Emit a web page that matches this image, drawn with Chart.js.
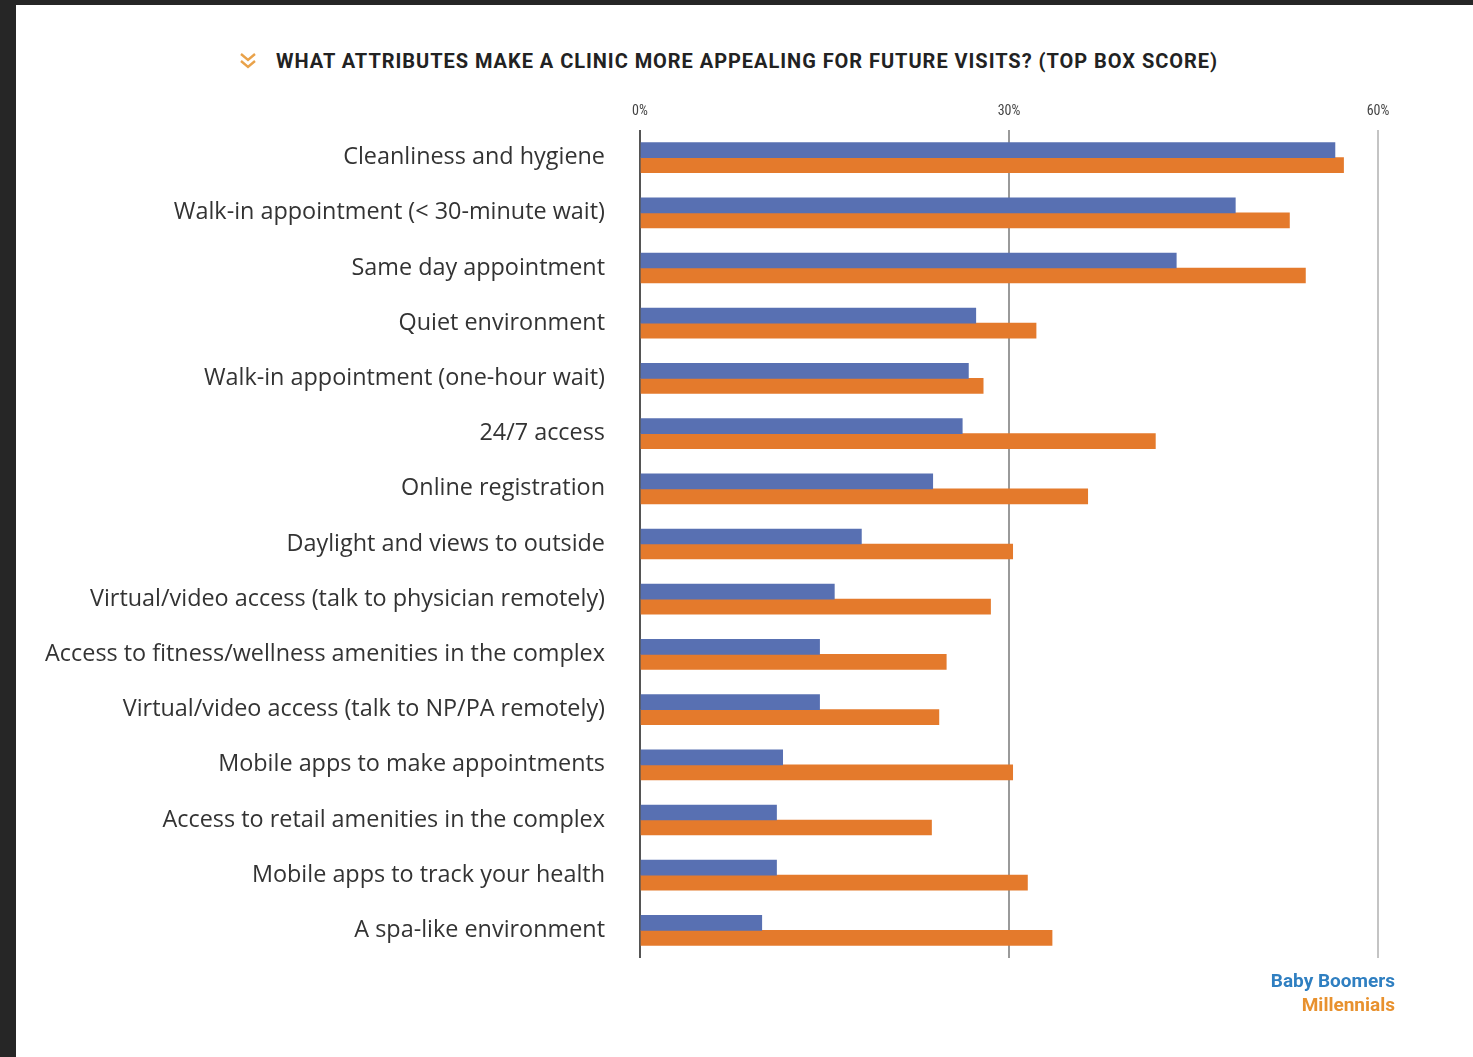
<!DOCTYPE html>
<html>
<head>
<meta charset="utf-8">
<script src="https://cdn.jsdelivr.net/npm/chart.js@4"></script>
<style>
  html, body { margin: 0; padding: 0; }
  body { width: 1473px; height: 1057px; background: #262626; position: relative; overflow: hidden; }
  #panel { position: absolute; left: 16px; top: 5px; width: 1457px; height: 1052px; background: #ffffff; }
  #title { position: absolute; left: 276px; top: 49px; font-family: Roboto, "Liberation Sans", sans-serif; font-weight: 700; font-size: 19px; letter-spacing: 0px; color: #222; white-space: nowrap; }
  #icon { position: absolute; left: 238px; top: 50px; }
  #chartwrap { position: absolute; left: 16px; top: 5px; width: 1457px; height: 1052px; }
  .leg { position: absolute; right: 78px; font-family: Roboto, "Liberation Sans", sans-serif; font-weight: 700; font-size: 19px; letter-spacing: 0px; white-space: nowrap; }
  #lb { top: 969px; color: #2f7fc1; }
  #lm { top: 993px; color: #e8912e; }
</style>
</head>
<body>
<div id="panel"></div>
<svg id="icon" width="20" height="24" viewBox="0 0 20 24">
  <polyline points="3,4 10,10 17,4" fill="none" stroke="#e9a24a" stroke-width="2.4"/>
  <polyline points="3,11 10,17 17,11" fill="none" stroke="#e9a24a" stroke-width="2.4"/>
</svg>
<div id="title">WHAT ATTRIBUTES MAKE A CLINIC MORE APPEALING FOR FUTURE VISITS? (TOP BOX SCORE)</div>
<div id="chartwrap"><canvas id="c" width="1457" height="1052"></canvas></div>
<div class="leg" id="lb">Baby Boomers</div>
<div class="leg" id="lm">Millennials</div>
<script>
const categories = [
  "Cleanliness and hygiene",
  "Walk-in appointment (< 30-minute wait)",
  "Same day appointment",
  "Quiet environment",
  "Walk-in appointment (one-hour wait)",
  "24/7 access",
  "Online registration",
  "Daylight and views to outside",
  "Virtual/video access (talk to physician remotely)",
  "Access to fitness/wellness amenities in the complex",
  "Virtual/video access (talk to NP/PA remotely)",
  "Mobile apps to make appointments",
  "Access to retail amenities in the complex",
  "Mobile apps to track your health",
  "A spa-like environment"
];
const babyBoomers = [56.5, 48.4, 43.6, 27.3, 26.7, 26.2, 23.8, 18.0, 15.8, 14.6, 14.6, 11.6, 11.1, 11.1, 9.9];
const millennials = [57.2, 52.8, 54.1, 32.2, 27.9, 41.9, 36.4, 30.3, 28.5, 24.9, 24.3, 30.3, 23.7, 31.5, 33.5];
const xTicks = [0, 30, 60];

const gridColors = { 0: '#555555', 30: '#9a9a9a', 60: '#c4c4c4' };

// Fit the title to the reference width with letter spacing
(function () {
  const t = document.getElementById('title');
  t.style.fontSize = '20px';
  const w = t.getBoundingClientRect().width;
  const n = t.textContent.length;
  t.style.letterSpacing = ((942 - w) / n).toFixed(2) + 'px';
})();

// Pick a label font size so the longest label spans like the reference
const labelFamily = 'Open Sans';
const labelSize = (function () {
  const cv = document.createElement('canvas').getContext('2d');
  cv.font = '20px "' + labelFamily + '"';
  const longest = Math.max(...categories.map(c => cv.measureText(c).width));
  return Math.round(20 * 560 / longest * 10) / 10;
})();

function build() {
new Chart(document.getElementById('c'), {
  type: 'bar',
  data: {
    labels: categories,
    datasets: [
      { label: 'Baby Boomers', data: babyBoomers, backgroundColor: '#5870b2', barThickness: 15 },
      { label: 'Millennials', data: millennials, backgroundColor: '#e47a2c', barThickness: 15 }
    ]
  },
  options: {
    indexAxis: 'y',
    responsive: false,
    animation: false,
    layout: { padding: { top: 85, left: 0, right: 95, bottom: 99 } },
    plugins: { legend: { display: false }, tooltip: { enabled: false } },
    scales: {
      x: {
        position: 'top',
        min: 0, max: 60,
        afterBuildTicks: (s) => { s.ticks = xTicks.map(v => ({ value: v })); },
        afterFit: (s) => { s.height = 40; },
        border: { display: false },
        grid: {
          drawTicks: false,
          lineWidth: 2,
          color: (ctx) => gridColors[ctx.tick ? ctx.tick.value : 0] || '#bbb'
        },
        ticks: {
          padding: 10,
          color: '#444',
          font: { family: 'Roboto Condensed, Roboto', size: 14 },
          callback: (v) => v + '%'
        }
      },
      y: {
        afterFit: (s) => { s.width = 624; },
        border: { display: false },
        grid: { display: false, drawTicks: false },
        ticks: {
          padding: 35,
          color: '#333',
          font: { family: labelFamily, size: labelSize }
        }
      }
    }
  }
});
}
build();
</script>
</body>
</html>
